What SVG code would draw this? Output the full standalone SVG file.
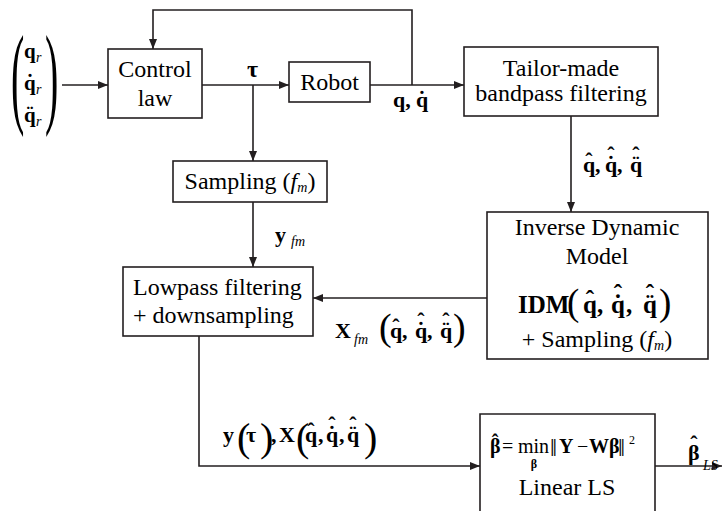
<svg xmlns="http://www.w3.org/2000/svg" width="726" height="511" viewBox="0 0 726 511">
<defs>
<marker id="ar" markerUnits="userSpaceOnUse" markerWidth="10" markerHeight="8" refX="10" refY="4" orient="auto">
<path d="M0,0 L10,4 L0,8 z" fill="#231f20"/>
</marker>
</defs>
<rect width="726" height="511" fill="#fff"/>

<g id="connectors" fill="none" stroke="#231f20" stroke-width="1.6">
<path d="M62,85 H108" marker-end="url(#ar)"/>
<path d="M202,85 H289" marker-end="url(#ar)"/>
<path d="M253,85 V161" marker-end="url(#ar)"/>
<path d="M370,85 H464" marker-end="url(#ar)"/>
<path d="M412,85 V10 H153 V49" marker-end="url(#ar)"/>
<path d="M571,116 V212" marker-end="url(#ar)"/>
<path d="M253,202 V267" marker-end="url(#ar)"/>
<path d="M487,298 H313" marker-end="url(#ar)"/>
<path d="M199,336 V466 H480" marker-end="url(#ar)"/>
<path d="M655,466 H722" marker-end="url(#ar)"/>
</g>

<g id="input" font-family="Liberation Serif">
<text font-size="40" transform="translate(11,113) scale(1,2.8)">(</text>
<text font-size="40" transform="translate(45,113) scale(1,2.8)">)</text>
<text font-weight="bold" x="24" y="58" font-size="21">q</text>
<text font-style="italic" x="36" y="62" font-size="14">r</text>
<text font-weight="bold" x="24" y="90" font-size="21">q</text>
<text font-weight="bold" text-anchor="middle" x="30" y="89" font-size="21">˙</text>
<text font-style="italic" x="36" y="94" font-size="14">r</text>
<text font-weight="bold" x="24" y="122" font-size="21">q</text>
<text font-weight="bold" text-anchor="middle" x="30" y="121" font-size="21">¨</text>
<text font-style="italic" x="36" y="126" font-size="14">r</text>
</g>

<g id="control-law">
<rect x="108" y="49" width="94" height="69" fill="#fff" stroke="#231f20" stroke-width="1.6"/>
<text font-family="Liberation Serif" font-size="24" text-anchor="middle" x="155" y="77">Control</text>
<text font-family="Liberation Serif" font-size="24" text-anchor="middle" x="155" y="106">law</text>
</g>

<g id="robot">
<rect x="289" y="62" width="81" height="40" fill="#fff" stroke="#231f20" stroke-width="1.6"/>
<text font-family="Liberation Serif" font-size="24" text-anchor="middle" x="329.5" y="90">Robot</text>
</g>

<g id="tailor">
<rect x="464" y="47" width="194" height="69" fill="#fff" stroke="#231f20" stroke-width="1.6"/>
<text font-family="Liberation Serif" font-size="24" text-anchor="middle" x="561" y="76">Tailor-made</text>
<text font-family="Liberation Serif" font-size="24" text-anchor="middle" x="561" y="101">bandpass filtering</text>
</g>

<g id="sampling">
<rect x="173" y="161" width="154" height="41" fill="#fff" stroke="#231f20" stroke-width="1.6"/>
<text font-family="Liberation Serif" font-size="24" text-anchor="middle" x="250" y="189">Sampling (<tspan font-style="italic">f</tspan><tspan font-style="italic" font-size="14" dy="3">m</tspan><tspan dy="-3">)</tspan></text>
</g>

<g id="lowpass">
<rect x="123" y="267" width="190" height="69" fill="#fff" stroke="#231f20" stroke-width="1.6"/>
<text font-family="Liberation Serif" font-size="24" x="133" y="295">Lowpass filtering</text>
<text font-family="Liberation Serif" font-size="24" x="133" y="323">+ downsampling</text>
</g>

<g id="idm" font-family="Liberation Serif">
<rect x="487" y="212" width="221" height="147" fill="#fff" stroke="#231f20" stroke-width="1.6"/>
<text font-size="24" text-anchor="middle" x="597" y="235">Inverse Dynamic</text>
<text font-size="24" text-anchor="middle" x="597" y="264">Model</text>
<text font-weight="bold" x="518" y="313" font-size="25">IDM</text>
<text x="567" y="315" font-size="37">(</text>
<text font-weight="bold" x="583" y="313" font-size="25">q</text>
<text font-weight="bold" text-anchor="middle" x="590" y="308" font-size="25">ˆ</text>
<text font-weight="bold" x="597" y="313" font-size="25">,</text>
<text font-weight="bold" x="611" y="313" font-size="25">q</text>
<text font-weight="bold" text-anchor="middle" x="618" y="312" font-size="25">˙</text>
<text font-weight="bold" text-anchor="middle" x="618" y="302" font-size="25">ˆ</text>
<text font-weight="bold" x="626" y="313" font-size="25">,</text>
<text font-weight="bold" x="643" y="313" font-size="25">q</text>
<text font-weight="bold" text-anchor="middle" x="650" y="312" font-size="25">¨</text>
<text font-weight="bold" text-anchor="middle" x="650" y="302" font-size="25">ˆ</text>
<text x="659" y="315" font-size="37">)</text>
<text font-size="24" text-anchor="middle" x="597" y="347">+ Sampling (<tspan font-style="italic">f</tspan><tspan font-style="italic" font-size="14" dy="3">m</tspan><tspan dy="-3">)</tspan></text>
</g>

<g id="linear-ls" font-family="Liberation Serif">
<path d="M480,513 V414 H655 V513" fill="#fff" stroke="#231f20" stroke-width="1.6"/>
<text font-weight="bold" x="490" y="453" font-size="20">β</text>
<text font-weight="bold" text-anchor="middle" x="495" y="449" font-size="20">ˆ</text>
<text x="502" y="453" font-size="20">=</text>
<text x="518" y="453" font-size="20">min</text>
<text font-weight="bold" text-anchor="middle" x="534" y="468" font-size="12">β</text>
<text x="550" y="456" font-size="25">‖</text>
<text font-weight="bold" x="559" y="453" font-size="20">Y</text>
<text x="577" y="453" font-size="20">−</text>
<text font-weight="bold" x="589" y="453" font-size="20">Wβ</text>
<text x="618" y="456" font-size="25">‖</text>
<text x="629" y="444" font-size="12">2</text>
<text font-size="24" text-anchor="middle" x="567" y="495">Linear LS</text>
</g>

<g id="labels" font-family="Liberation Serif" font-weight="bold">
<text x="247" y="77" font-size="24">τ</text>
<text x="393" y="107" font-size="22">q,</text>
<text x="416" y="107" font-size="22">q</text>
<text text-anchor="middle" x="422" y="106" font-size="22">˙</text>

<text x="583" y="172" font-size="22">q</text>
<text text-anchor="middle" x="589" y="168" font-size="22">ˆ</text>
<text x="595" y="172" font-size="22">,</text>
<text x="605" y="172" font-size="22">q</text>
<text text-anchor="middle" x="611" y="171" font-size="22">˙</text>
<text text-anchor="middle" x="611" y="162" font-size="22">ˆ</text>
<text x="617" y="172" font-size="22">,</text>
<text x="630" y="172" font-size="22">q</text>
<text text-anchor="middle" x="636" y="171" font-size="22">¨</text>
<text text-anchor="middle" x="636" y="162" font-size="22">ˆ</text>

<text x="275" y="242" font-size="22">y</text>
<text font-weight="normal" font-style="italic" x="291" y="246" font-size="14">fm</text>

<text x="335" y="338" font-size="22">X</text>
<text font-weight="normal" font-style="italic" x="354" y="344" font-size="14">fm</text>
<text font-weight="normal" x="379" y="340" font-size="38">(</text>
<text x="390" y="338" font-size="22">q</text>
<text text-anchor="middle" x="396" y="334" font-size="22">ˆ</text>
<text x="402" y="338" font-size="22">,</text>
<text x="415" y="338" font-size="22">q</text>
<text text-anchor="middle" x="421" y="337" font-size="22">˙</text>
<text text-anchor="middle" x="421" y="328" font-size="22">ˆ</text>
<text x="427" y="338" font-size="22">,</text>
<text x="440" y="338" font-size="22">q</text>
<text text-anchor="middle" x="446" y="337" font-size="22">¨</text>
<text text-anchor="middle" x="446" y="328" font-size="22">ˆ</text>
<text font-weight="normal" x="453" y="340" font-size="38">)</text>

<text x="223" y="442" font-size="22">y</text>
<text font-weight="normal" x="237" y="451" font-size="40">(</text>
<text x="246" y="442" font-size="22">τ</text>
<text font-weight="normal" x="260" y="451" font-size="40">)</text>
<text x="271" y="442" font-size="22">,</text>
<text x="279" y="442" font-size="22">X</text>
<text font-weight="normal" x="296" y="451" font-size="40">(</text>
<text x="305" y="442" font-size="22">q</text>
<text text-anchor="middle" x="311" y="438" font-size="22">ˆ</text>
<text x="318" y="442" font-size="22">,</text>
<text x="326" y="442" font-size="22">q</text>
<text text-anchor="middle" x="332" y="441" font-size="22">˙</text>
<text text-anchor="middle" x="332" y="432" font-size="22">ˆ</text>
<text x="339" y="442" font-size="22">,</text>
<text x="347" y="442" font-size="22">q</text>
<text text-anchor="middle" x="353" y="441" font-size="22">¨</text>
<text text-anchor="middle" x="353" y="432" font-size="22">ˆ</text>
<text font-weight="normal" x="364" y="451" font-size="40">)</text>

<text x="688" y="460" font-size="22">β</text>
<text text-anchor="middle" x="694" y="451" font-size="22">ˆ</text>
<text font-weight="normal" font-style="italic" x="703" y="470" font-size="14">LS</text>
</g>
</svg>
